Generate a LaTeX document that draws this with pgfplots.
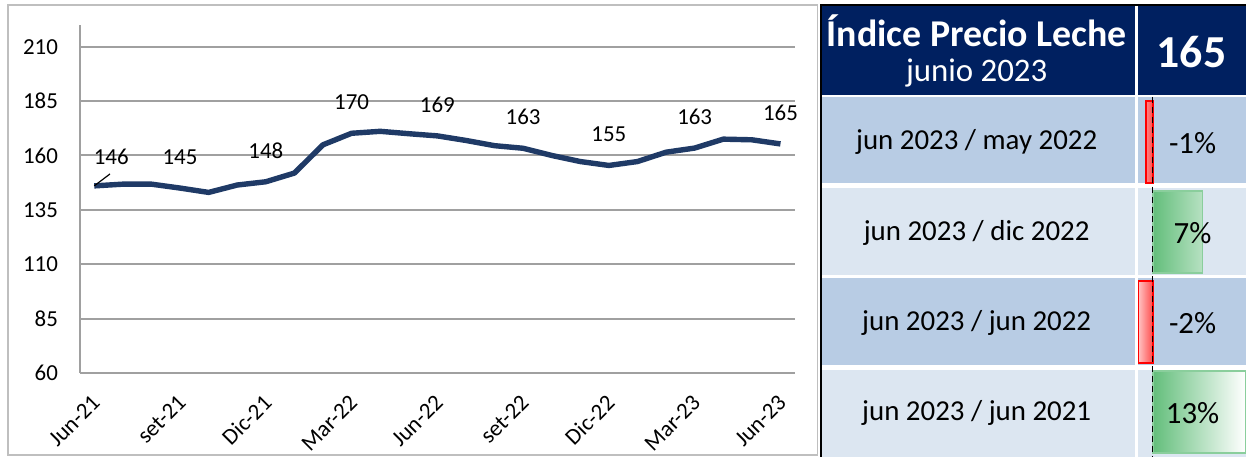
\documentclass[border=0pt]{standalone}
\usepackage{pgfplots}
\pgfplotsset{compat=1.18}
\usepackage{pgfplotstable}
\usepackage{fontspec}
\setmainfont{Carlito}
\definecolor{navy}{HTML}{002060}
\definecolor{linecol}{HTML}{1F3A66}
\definecolor{rowdark}{HTML}{B8CCE4}
\definecolor{rowlight}{HTML}{DCE6F1}
\definecolor{gridgray}{HTML}{A0A0A0}
\definecolor{barg}{HTML}{63BE7B}
\definecolor{barr}{HTML}{FF0000}

% indice mensual, jun-21 .. jun-23
\pgfplotstableread{
x y
0 146.0
1 146.8
2 146.8
3 145.0
4 143.0
5 146.4
6 147.9
7 151.9
8 164.9
9 170.2
10 171.1
11 170.0
12 169.0
13 166.9
14 164.5
15 163.3
16 160.0
17 157.2
18 155.4
19 157.2
20 161.5
21 163.4
22 167.5
23 167.2
24 165.3
}\indice

% etiquetas cada 3 meses
\pgfplotstableread{
x y lab
3 145.0 145
6 147.9 148
9 170.2 170
12 169.0 169
15 163.3 163
18 155.4 155
21 163.4 163
24 165.3 165
}\etiquetas

\begin{document}
\begin{tikzpicture}
\begin{scope}[x=0.5bp,y=-0.5bp]
\useasboundingbox (0,0) rectangle (1246,457);
\fill[white] (0,0) rectangle (1246,457);
\draw[black!25, line width=0.75bp] (8,5) rectangle (818,455);

% tabla
\fill[navy] (820,5) rectangle (1135,95);
\fill[navy] (1138,5) rectangle (1246,95);
\fill[rowdark] (820,97) rectangle (1135,183);
\fill[rowdark] (1138,97) rectangle (1246,183);
\fill[rowlight] (820,188) rectangle (1135,275);
\fill[rowlight] (1138,188) rectangle (1246,275);
\fill[rowdark] (820,278) rectangle (1135,365);
\fill[rowdark] (1138,278) rectangle (1246,365);
\fill[rowlight] (820,370) rectangle (1135,457);
\fill[rowlight] (1138,370) rectangle (1246,457);
\draw[black, line width=1bp] (821,457) -- (821,5) -- (1246,5);

\node[white, font=\fontsize{19}{22}\selectfont\bfseries] at (977,31) {Índice Precio Leche};
\node[white, font=\fontsize{16.5}{19}\selectfont] at (977,73) {junio 2023};
\node[white, font=\fontsize{23}{27}\selectfont\bfseries] at (1192,52) {165};
\node[font=\fontsize{14.5}{17}\selectfont] at (977,142) {jun 2023 / may 2022};
\node[font=\fontsize{14.5}{17}\selectfont] at (977,233) {jun 2023 / dic 2022};
\node[font=\fontsize{14.5}{17}\selectfont] at (977,323) {jun 2023 / jun 2022};
\node[font=\fontsize{14.5}{17}\selectfont] at (977,413) {jun 2023 / jun 2021};
\end{scope}

% barras de variacion
\begin{axis}[at={(569bp,-228.5bp)}, anchor=south west, width=54bp, height=180bp, scale only axis,
  xmin=-2.15, xmax=13.05, ymin=0, ymax=4, y dir=reverse, hide axis, clip=false]
\addplot[xbar, bar width=41bp, bar shift=0pt, draw=barg!75, line width=0.75bp, left color=barg, right color=white] coordinates {(7,1.5) (13,3.5)};
\addplot[xbar, bar width=41bp, bar shift=0pt, draw=barr, line width=0.75bp, left color=barr!25, right color=barr!70] coordinates {(-1,0.5) (-2,2.5)};
\draw[black, densely dashed, line width=0.5bp] (axis cs:0,0) -- (axis cs:0,4);
\end{axis}

\begin{scope}[x=0.5bp,y=-0.5bp]
\node[font=\fontsize{15.5}{18}\selectfont] at (1193,143) {-1\%};
\node[font=\fontsize{15.5}{18}\selectfont] at (1193,233) {7\%};
\node[font=\fontsize{15.5}{18}\selectfont] at (1193,323) {-2\%};
\node[font=\fontsize{15.5}{18}\selectfont] at (1193,413) {13\%};
\end{scope}

% grafico de linea
\begin{axis}[at={(40bp,-186.5bp)}, anchor=south west, width=357.5bp, height=174bp, scale only axis,
  xmin=-0.5, xmax=24.5, ymin=60, ymax=220,
  axis lines*=left, axis line style={gridgray, line width=1bp},
  xtick={0,3,...,24}, xticklabels={Jun-21,set-21,Dic-21,Mar-22,Jun-22,set-22,Dic-22,Mar-23,Jun-23},
  ytick={60,85,...,210}, ymajorgrids, grid style={gridgray, line width=1bp},
  major tick length=0pt,
  tick label style={font=\fontsize{11.5}{13}\selectfont},
  /pgf/number format/assume math mode=true,
  yticklabel style={xshift=-7.5bp},
  x tick label style={anchor=east, inner sep=0pt, xshift=1bp, yshift=-13bp, rotate=45},
  clip=false]
\addplot[linecol, line width=2.7bp, line join=round, no marks] table {\indice};
\addplot[draw=none, no marks, nodes near coords, point meta=explicit symbolic,
  every node near coord/.append style={anchor=center, font=\fontsize{11.5}{13}\selectfont, yshift=15.5bp}]
  table[meta=lab] {\etiquetas};
\addplot[draw=none, no marks, nodes near coords, point meta=explicit symbolic,
  every node near coord/.append style={anchor=center, font=\fontsize{11.5}{13}\selectfont, xshift=8.5bp, yshift=14.5bp}]
  coordinates {(0,146.0) [146]};
\draw[black, line width=0.6bp] (axis cs:0,146) -- (axis cs:0.55,151.5);
\end{axis}
\end{tikzpicture}
\end{document}
